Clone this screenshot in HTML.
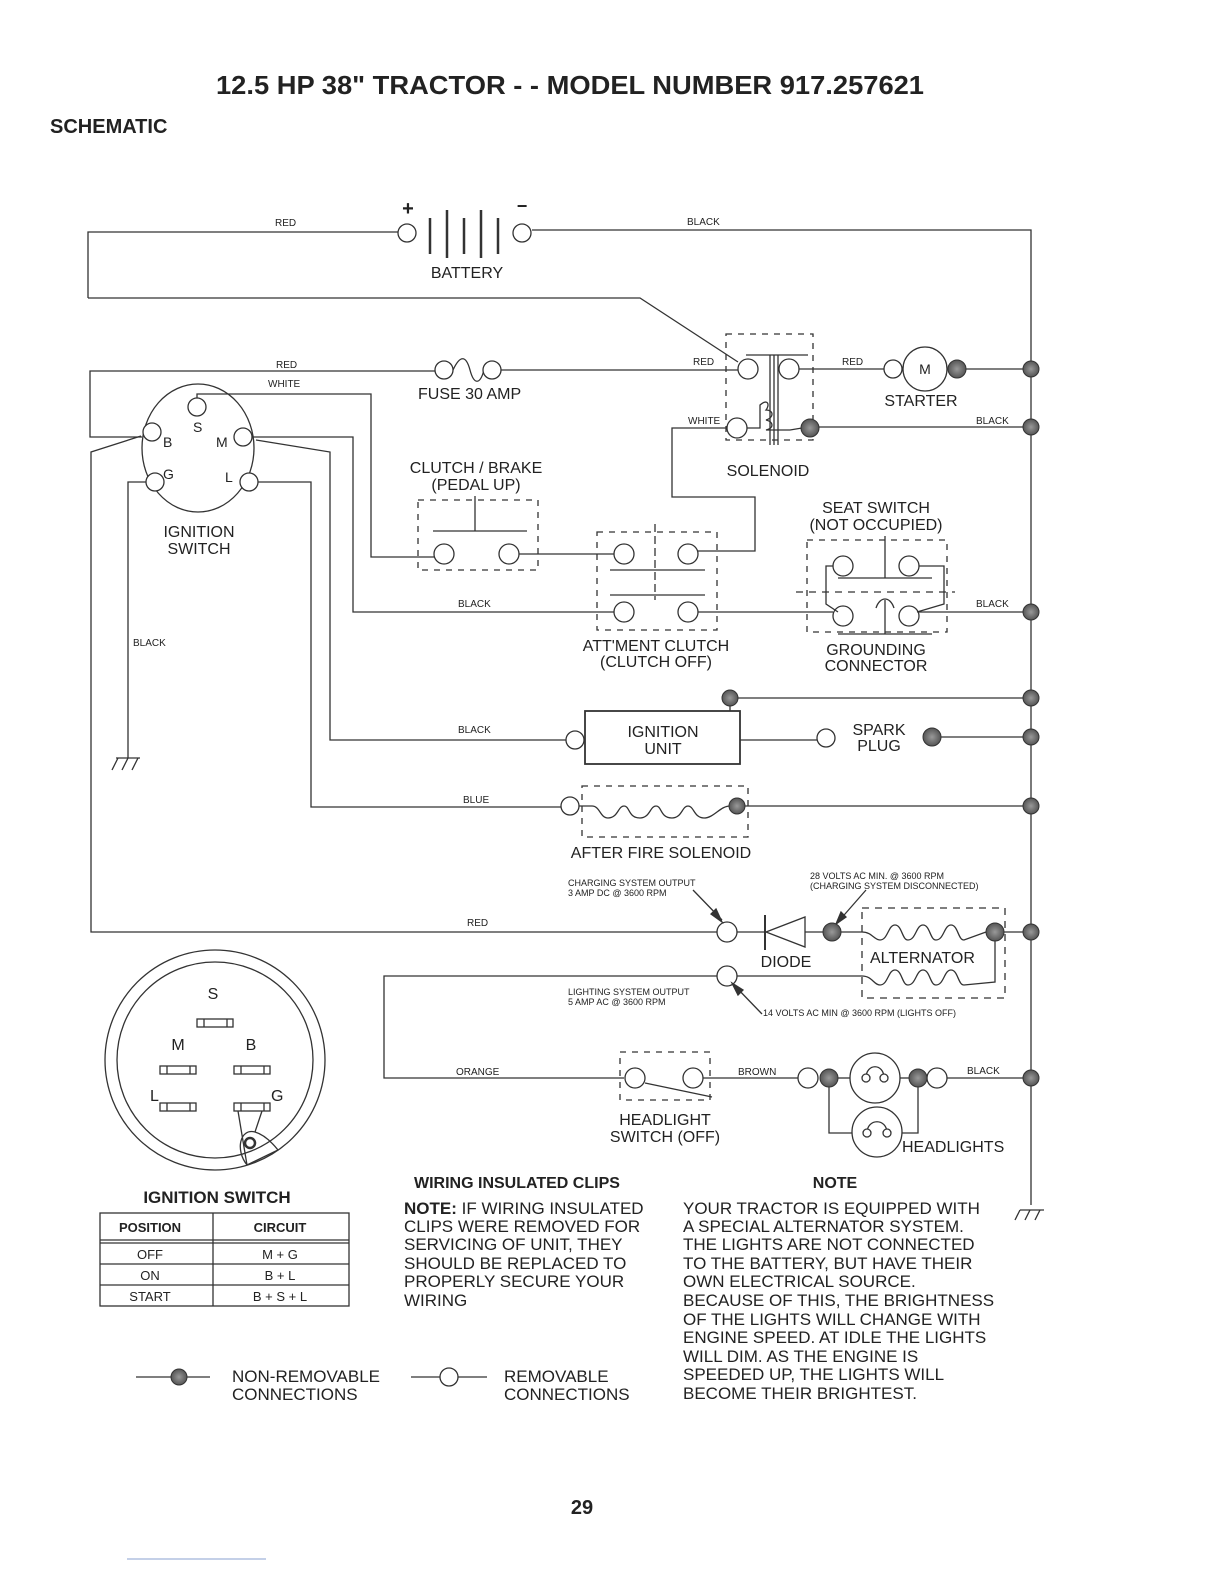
<!DOCTYPE html>
<html><head><meta charset="utf-8"><style>
html,body{margin:0;padding:0;background:#fff;}
svg{display:block;}
text{font-family:"Liberation Sans",sans-serif;fill:#222;}
</style></head><body>
<svg width="1224" height="1584" viewBox="0 0 1224 1584" xmlns="http://www.w3.org/2000/svg">
<defs>
<radialGradient id="d"><stop offset="0" stop-color="#999"/><stop offset="1" stop-color="#555"/></radialGradient>
</defs>
<g stroke="#333" stroke-width="1.3" fill="none">
<polyline points="88,298 88,232 398,232"/>
<polyline points="532,230 1031,230 1031,1205"/>
<polyline points="88,298 640,298 738,362"/>
<circle cx="407" cy="233" r="9" fill="#fff"/>
<circle cx="522" cy="233" r="9" fill="#fff"/>
<line x1="430" y1="218" x2="430" y2="254" stroke-width="2.5"/>
<line x1="447" y1="210" x2="447" y2="258" stroke-width="2.5"/>
<line x1="464" y1="218" x2="464" y2="254" stroke-width="2.5"/>
<line x1="481" y1="210" x2="481" y2="258" stroke-width="2.5"/>
<line x1="498" y1="218" x2="498" y2="254" stroke-width="2.5"/>
<line x1="1020" y1="1210" x2="1044" y2="1210"/>
<line x1="1020" y1="1210" x2="1015" y2="1220"/><line x1="1030" y1="1210" x2="1025" y2="1220"/><line x1="1040" y1="1210" x2="1035" y2="1220"/>
<polyline points="142,437 90,437 90,371 435,371"/>
<circle cx="444" cy="370" r="9" fill="#fff"/>
<path d="M453,370 C460,355 466,355 470,370 C474,385 480,385 484,370"/>
<circle cx="492" cy="370" r="9" fill="#fff"/>
<line x1="501" y1="370" x2="739" y2="370"/>
<ellipse cx="198" cy="448" rx="56" ry="64"/>
<circle cx="197" cy="407" r="9" fill="#fff"/>
<circle cx="152" cy="432" r="9" fill="#fff"/>
<circle cx="243" cy="437" r="9" fill="#fff"/>
<circle cx="155" cy="482" r="9" fill="#fff"/>
<circle cx="249" cy="482" r="9" fill="#fff"/>
<polyline points="197,398 197,394 371,394 371,557 435,557"/>
<polyline points="252,437 353,437 353,612 615,612"/>
<polyline points="256,440 330,452 330,740 566,740"/>
<polyline points="258,482 311,482 311,807 561,807"/>
<polyline points="141,436 91,452 91,932 718,932"/>
<polyline points="146,482 128,482 128,758"/>
<line x1="116" y1="758" x2="140" y2="758"/>
<line x1="118" y1="758" x2="112" y2="770"/><line x1="128" y1="758" x2="122" y2="770"/><line x1="138" y1="758" x2="132" y2="770"/>
<rect x="726" y="334" width="87" height="106" stroke-dasharray="6,6"/>
<circle cx="748" cy="369" r="10" fill="#fff"/>
<circle cx="789" cy="369" r="10" fill="#fff"/>
<circle cx="737" cy="428" r="10" fill="#fff"/>
<line x1="746" y1="355" x2="808" y2="355"/>
<line x1="774" y1="355" x2="774" y2="445"/><line x1="778" y1="355" x2="778" y2="445"/><line x1="770" y1="355" x2="770" y2="445"/>
<path d="M747,428 L760,428 L760,405 C768,398 770,405 766,410 C774,410 774,418 766,420 C774,422 774,428 766,430 L790,430 L802,428"/>
<line x1="799" y1="369" x2="884" y2="369"/>
<circle cx="893" cy="369" r="9" fill="#fff"/>
<circle cx="925" cy="369" r="22" fill="#fff"/>
<line x1="966" y1="369" x2="1031" y2="369"/>
<line x1="818" y1="427" x2="1031" y2="427"/>
<polyline points="727,428 672,428 672,497 755,497 755,551 697,551"/>
<rect x="418" y="500" width="120" height="70" stroke-dasharray="6,6"/>
<line x1="475" y1="496" x2="475" y2="531"/>
<line x1="433" y1="531" x2="527" y2="531"/>
<circle cx="444" cy="554" r="10" fill="#fff"/>
<circle cx="509" cy="554" r="10" fill="#fff"/>
<line x1="519" y1="554" x2="614" y2="554"/>
<rect x="597" y="532" width="120" height="98" stroke-dasharray="6,6"/>
<line x1="655" y1="524" x2="655" y2="600" stroke-dasharray="8,4"/>
<line x1="610" y1="570" x2="705" y2="570"/>
<line x1="610" y1="595" x2="705" y2="595"/>
<circle cx="624" cy="554" r="10" fill="#fff"/>
<circle cx="688" cy="554" r="10" fill="#fff"/>
<circle cx="624" cy="612" r="10" fill="#fff"/>
<circle cx="688" cy="612" r="10" fill="#fff"/>
<line x1="698" y1="612" x2="833" y2="612"/>
<rect x="807" y="540" width="140" height="92" stroke-dasharray="6,6"/>
<line x1="796" y1="592" x2="955" y2="592" stroke-dasharray="7,6"/>
<line x1="885" y1="536" x2="885" y2="578"/>
<line x1="838" y1="578" x2="932" y2="578"/>
<line x1="838" y1="634" x2="932" y2="634"/>
<line x1="885" y1="600" x2="885" y2="634"/>
<path d="M876,608 C880,596 890,596 894,608"/>
<circle cx="843" cy="566" r="10" fill="#fff"/>
<circle cx="909" cy="566" r="10" fill="#fff"/>
<circle cx="843" cy="616" r="10" fill="#fff"/>
<circle cx="909" cy="616" r="10" fill="#fff"/>
<polyline points="833,566 826,566 826,604 838,612"/>
<polyline points="919,566 944,566 944,604 917,612"/>
<line x1="919" y1="612" x2="1031" y2="612"/>
<rect x="585" y="711" width="155" height="53" stroke-width="1.8"/>
<circle cx="575" cy="740" r="9" fill="#fff"/>
<line x1="740" y1="740" x2="817" y2="740"/>
<circle cx="826" cy="738" r="9" fill="#fff"/>
<line x1="932" y1="737" x2="1031" y2="737"/>
<line x1="730" y1="698" x2="1031" y2="698"/>
<line x1="730" y1="698" x2="730" y2="711"/>
<rect x="582" y="786" width="166" height="51" stroke-dasharray="6,6"/>
<circle cx="570" cy="806" r="9" fill="#fff"/>
<path d="M579,806 L592,806 C600,806 600,818 608,818 C618,818 618,806 624,806 C630,806 628,818 640,818 C650,818 650,806 656,806 C662,806 660,818 672,818 C682,818 682,806 688,806 C694,806 694,818 704,818 C714,818 720,806 730,806"/>
<line x1="745" y1="806" x2="1031" y2="806"/>
<circle cx="727" cy="932" r="10" fill="#fff"/>
<line x1="737" y1="932" x2="765" y2="932"/>
<line x1="765" y1="915" x2="765" y2="950" stroke-width="2"/>
<polygon points="766,932 805,917 805,947" fill="#fff"/>
<line x1="805" y1="932" x2="823" y2="932"/>
<line x1="841" y1="932" x2="862" y2="932"/>
<rect x="862" y="908" width="143" height="90" stroke-dasharray="7,6"/>
<path d="M862,932 C872,932 874,940 880,940 C888,940 888,925 895,925 C902,925 902,940 908,940 C916,940 916,925 923,925 C930,925 930,940 936,940 C944,940 944,925 951,925 C958,925 958,940 964,940 L986,932"/>
<path d="M737,976 L862,976 C872,976 874,985 880,985 C888,985 888,970 895,970 C902,970 902,985 908,985 C916,985 916,970 923,970 C930,970 930,985 936,985 C944,985 944,970 951,970 C958,970 958,985 964,985 L995,982 L995,932"/>
<line x1="1004" y1="932" x2="1031" y2="932"/>
<circle cx="727" cy="976" r="10" fill="#fff"/>
<polyline points="717,976 384,976 384,1078 624,1078"/>
<line x1="693" y1="890" x2="722" y2="920"/><polygon points="722,922 711,914 716,909" fill="#333"/>
<line x1="866" y1="890" x2="838" y2="922"/><polygon points="836,924 841,912 846,917" fill="#333"/>
<line x1="762" y1="1014" x2="734" y2="985"/><polygon points="732,983 743,990 738,995" fill="#333"/>
<rect x="620" y="1052" width="90" height="48" stroke-dasharray="6,6"/>
<circle cx="635" cy="1078" r="10" fill="#fff"/>
<circle cx="693" cy="1078" r="10" fill="#fff"/>
<line x1="645" y1="1083" x2="712" y2="1097"/>
<line x1="703" y1="1078" x2="799" y2="1078"/>
<circle cx="808" cy="1078" r="10" fill="#fff"/>
<line x1="838" y1="1078" x2="850" y2="1078"/>
<circle cx="875" cy="1078" r="25" fill="#fff"/>
<path d="M866,1078 C866,1063 884,1063 884,1078"/>
<circle cx="866" cy="1078" r="4" fill="#fff"/><circle cx="884" cy="1078" r="4" fill="#fff"/>
<line x1="900" y1="1078" x2="910" y2="1078"/>
<circle cx="877" cy="1132" r="25" fill="#fff"/>
<path d="M867,1133 C867,1118 887,1118 887,1133"/>
<circle cx="867" cy="1133" r="4" fill="#fff"/><circle cx="887" cy="1133" r="4" fill="#fff"/>
<polyline points="829,1086 829,1133 852,1133"/>
<polyline points="918,1086 918,1133 902,1133"/>
<circle cx="937" cy="1078" r="10" fill="#fff"/>
<line x1="947" y1="1078" x2="1031" y2="1078"/>
<circle cx="215" cy="1060" r="110"/>
<circle cx="215" cy="1060" r="98"/>
<rect x="197" y="1019" width="36" height="8"/><line x1="204" y1="1019" x2="204" y2="1027"/><line x1="227" y1="1019" x2="227" y2="1027"/>
<rect x="160" y="1066" width="36" height="8"/><line x1="167" y1="1066" x2="167" y2="1074"/><line x1="190" y1="1066" x2="190" y2="1074"/>
<rect x="234" y="1066" width="36" height="8"/><line x1="241" y1="1066" x2="241" y2="1074"/><line x1="264" y1="1066" x2="264" y2="1074"/>
<rect x="160" y="1103" width="36" height="8"/><line x1="167" y1="1103" x2="167" y2="1111"/><line x1="190" y1="1103" x2="190" y2="1111"/>
<rect x="234" y="1103" width="36" height="8"/><line x1="241" y1="1103" x2="241" y2="1111"/><line x1="264" y1="1103" x2="264" y2="1111"/>
<path d="M238,1111 L247,1165 M262,1111 L255,1132 C240,1128 235,1150 247,1165 L278,1150 C270,1140 262,1134 255,1132"/>
<circle cx="250" cy="1143" r="5" stroke-width="2.5"/>
<rect x="100" y="1213" width="249" height="93"/>
<line x1="213" y1="1213" x2="213" y2="1306"/>
<line x1="100" y1="1240" x2="349" y2="1240"/><line x1="100" y1="1243" x2="349" y2="1243"/>
<line x1="100" y1="1264" x2="349" y2="1264"/><line x1="100" y1="1285" x2="349" y2="1285"/>
<line x1="136" y1="1377" x2="210" y2="1377"/>
<line x1="411" y1="1377" x2="487" y2="1377"/>
<circle cx="449" cy="1377" r="9" fill="#fff"/>
</g>
<g stroke="#333" stroke-width="1">
<circle cx="1031" cy="369" r="8" fill="url(#d)"/>
<circle cx="1031" cy="427" r="8" fill="url(#d)"/>
<circle cx="1031" cy="612" r="8" fill="url(#d)"/>
<circle cx="1031" cy="698" r="8" fill="url(#d)"/>
<circle cx="1031" cy="737" r="8" fill="url(#d)"/>
<circle cx="1031" cy="806" r="8" fill="url(#d)"/>
<circle cx="1031" cy="932" r="8" fill="url(#d)"/>
<circle cx="1031" cy="1078" r="8" fill="url(#d)"/>
<circle cx="730" cy="698" r="8" fill="url(#d)"/>
<circle cx="932" cy="737" r="9" fill="url(#d)"/>
<circle cx="737" cy="806" r="8" fill="url(#d)"/>
<circle cx="832" cy="932" r="9" fill="url(#d)"/>
<circle cx="995" cy="932" r="9" fill="url(#d)"/>
<circle cx="829" cy="1078" r="9" fill="url(#d)"/>
<circle cx="918" cy="1078" r="9" fill="url(#d)"/>
<circle cx="957" cy="369" r="9" fill="url(#d)"/>
<circle cx="810" cy="428" r="9" fill="url(#d)"/>
<circle cx="179" cy="1377" r="8" fill="url(#d)"/>
</g>
<text x="570" y="94" font-size="26" font-weight="bold" text-anchor="middle" textLength="708" lengthAdjust="spacingAndGlyphs">12.5 HP 38" TRACTOR - - MODEL NUMBER 917.257621</text>
<text x="50" y="133" font-size="20" font-weight="bold">SCHEMATIC</text>
<text x="408" y="215" font-size="20" font-weight="bold" text-anchor="middle">+</text>
<text x="522" y="212" font-size="18" font-weight="bold" text-anchor="middle">−</text>
<g font-size="10">
<text x="275" y="226">RED</text><text x="687" y="225">BLACK</text>
<text x="276" y="368">RED</text><text x="268" y="387">WHITE</text>
<text x="693" y="365">RED</text><text x="688" y="424">WHITE</text>
<text x="842" y="365">RED</text><text x="976" y="424">BLACK</text>
<text x="458" y="607">BLACK</text><text x="976" y="607">BLACK</text>
<text x="133" y="646">BLACK</text><text x="458" y="733">BLACK</text><text x="463" y="803">BLUE</text>
<text x="467" y="926">RED</text><text x="456" y="1075">ORANGE</text><text x="738" y="1075">BROWN</text><text x="967" y="1074">BLACK</text>
</g>
<g font-size="9">
<text x="568" y="886">CHARGING SYSTEM OUTPUT</text><text x="568" y="896">3 AMP DC @ 3600 RPM</text>
<text x="810" y="879">28 VOLTS AC MIN. @ 3600 RPM</text><text x="810" y="889">(CHARGING SYSTEM DISCONNECTED)</text>
<text x="568" y="995">LIGHTING SYSTEM OUTPUT</text><text x="568" y="1005">5 AMP AC @ 3600 RPM</text>
<text x="763" y="1016">14 VOLTS AC MIN  @ 3600 RPM (LIGHTS OFF)</text>
</g>
<g font-size="16">
<text x="467" y="278" text-anchor="middle">BATTERY</text>
<text x="418" y="399">FUSE 30 AMP</text>
<text x="921" y="406" text-anchor="middle">STARTER</text>
<text x="768" y="476" text-anchor="middle">SOLENOID</text>
<text x="476" y="473" text-anchor="middle">CLUTCH / BRAKE</text><text x="476" y="490" text-anchor="middle">(PEDAL UP)</text>
<text x="199" y="537" text-anchor="middle">IGNITION</text><text x="199" y="554" text-anchor="middle">SWITCH</text>
<text x="876" y="513" text-anchor="middle">SEAT SWITCH</text><text x="876" y="530" text-anchor="middle">(NOT OCCUPIED)</text>
<text x="656" y="651" text-anchor="middle">ATT'MENT CLUTCH</text><text x="656" y="667" text-anchor="middle">(CLUTCH OFF)</text>
<text x="876" y="655" text-anchor="middle">GROUNDING</text><text x="876" y="671" text-anchor="middle">CONNECTOR</text>
<text x="663" y="737" text-anchor="middle">IGNITION</text><text x="663" y="754" text-anchor="middle">UNIT</text>
<text x="879" y="735" text-anchor="middle">SPARK</text><text x="879" y="751" text-anchor="middle">PLUG</text>
<text x="661" y="858" text-anchor="middle">AFTER FIRE SOLENOID</text>
<text x="786" y="967" text-anchor="middle">DIODE</text>
<text x="870" y="963">ALTERNATOR</text>
<text x="665" y="1125" text-anchor="middle">HEADLIGHT</text><text x="665" y="1142" text-anchor="middle">SWITCH (OFF)</text>
<text x="902" y="1152">HEADLIGHTS</text>
<text x="213" y="999" text-anchor="middle">S</text>
<text x="178" y="1050" text-anchor="middle">M</text><text x="251" y="1050" text-anchor="middle">B</text>
<text x="150" y="1101">L</text><text x="271" y="1101">G</text>
</g>
<g font-size="14">
<text x="163" y="447">B</text><text x="193" y="432">S</text><text x="216" y="447">M</text>
<text x="163" y="479">G</text><text x="225" y="482">L</text>
<text x="925" y="374" text-anchor="middle">M</text>
</g>
<text x="217" y="1203" font-size="17" font-weight="bold" text-anchor="middle">IGNITION SWITCH</text>
<g font-size="13" text-anchor="middle">
<text x="150" y="1232" font-weight="bold">POSITION</text><text x="280" y="1232" font-weight="bold">CIRCUIT</text>
<text x="150" y="1259">OFF</text><text x="280" y="1259">M + G</text>
<text x="150" y="1280">ON</text><text x="280" y="1280">B + L</text>
<text x="150" y="1301">START</text><text x="280" y="1301">B + S + L</text>
</g>
<text x="414" y="1188" font-size="16" font-weight="bold">WIRING INSULATED CLIPS</text>
<text x="835" y="1188" font-size="16" font-weight="bold" text-anchor="middle">NOTE</text>
<g font-size="17">
<text x="404" y="1214"><tspan font-weight="bold">NOTE:</tspan> IF WIRING INSULATED</text>
<text x="404" y="1232">CLIPS WERE REMOVED FOR</text>
<text x="404" y="1250">SERVICING OF UNIT, THEY</text>
<text x="404" y="1269">SHOULD BE REPLACED TO</text>
<text x="404" y="1287">PROPERLY SECURE YOUR</text>
<text x="404" y="1306">WIRING</text>
<text x="683" y="1214">YOUR TRACTOR IS EQUIPPED WITH</text>
<text x="683" y="1232">A SPECIAL ALTERNATOR SYSTEM.</text>
<text x="683" y="1250">THE LIGHTS ARE NOT CONNECTED</text>
<text x="683" y="1269">TO  THE BATTERY, BUT HAVE THEIR</text>
<text x="683" y="1287">OWN ELECTRICAL SOURCE.</text>
<text x="683" y="1306">BECAUSE OF THIS, THE BRIGHTNESS</text>
<text x="683" y="1325">OF THE LIGHTS WILL CHANGE WITH</text>
<text x="683" y="1343">ENGINE SPEED.  AT IDLE THE LIGHTS</text>
<text x="683" y="1362">WILL DIM.  AS THE ENGINE IS</text>
<text x="683" y="1380">SPEEDED UP, THE LIGHTS WILL</text>
<text x="683" y="1399">BECOME THEIR BRIGHTEST.</text>
<text x="232" y="1382">NON-REMOVABLE</text><text x="232" y="1400">CONNECTIONS</text>
<text x="504" y="1382">REMOVABLE</text><text x="504" y="1400">CONNECTIONS</text>
</g>
<text x="582" y="1514" font-size="20" font-weight="bold" text-anchor="middle">29</text>
<line x1="127" y1="1559" x2="266" y2="1559" stroke="#8aa0d0" stroke-width="1"/>
</svg>
</body></html>
